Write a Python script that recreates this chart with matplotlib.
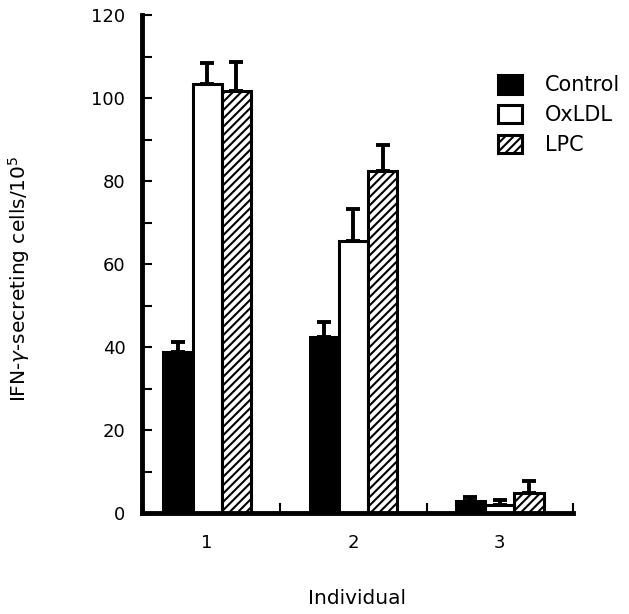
import matplotlib.pyplot as plt
import numpy as np

plt.rcParams['font.family'] = ['DejaVu Sans']
plt.rcParams['hatch.linewidth'] = 1.5

individuals = ['1', '2', '3']
groups = ['Control', 'OxLDL', 'LPC']
control = [38.8, 42.4, 2.9]
control_err = [2.4, 3.6, 1.0]
oxldl = [103.5, 65.5, 1.9]
oxldl_err = [5.0, 7.8, 1.3]
lpc = [101.7, 82.3, 4.8]
lpc_err = [7.0, 6.4, 2.9]


def main() -> None:
      fig = plt.figure(figsize=(6.29, 6.14), dpi=100)
      ax = fig.add_axes([0.2258, 0.1645, 0.685, 0.811])

      x = np.arange(1, len(individuals) + 1)
      w = 0.2
      styles = [('black', ''), ('white', ''), ('white', '////')]
      series = [(control, control_err), (oxldl, oxldl_err), (lpc, lpc_err)]
      for i, ((vals, errs), (fc, hatch), name) in enumerate(zip(series, styles, groups)):
            ax.bar(x + (i - 1) * w, vals, w, color=fc, edgecolor='black',
                   linewidth=2.2, hatch=hatch, label=name, zorder=2,
                   yerr=[np.zeros(len(errs)), errs],
                   error_kw=dict(ecolor='black', elinewidth=2.8, capsize=5, capthick=2.8))

      ax.set_xlim(0.555, 3.5)
      ax.set_ylim(0, 120)
      ax.set_xticks(x)
      ax.set_xticklabels(individuals, fontsize=13)
      ax.set_xticks([1.5, 2.5, 3.5], minor=True)
      ax.tick_params(axis='x', which='major', length=0, pad=15)
      ax.tick_params(axis='x', which='minor', direction='in', length=7, width=1.5)
      ax.set_yticks(np.arange(0, 121, 20))
      ax.set_yticks(np.arange(10, 120, 20), minor=True)
      ax.tick_params(axis='y', which='both', direction='in', length=7, width=1.5, labelsize=13, pad=12)

      for s in ['top', 'right']:
            ax.spines[s].set_visible(False)
      for s in ['left', 'bottom']:
            ax.spines[s].set_linewidth(3.5)

      ax.set_xlabel('Individual', fontsize=14.5, labelpad=27)
      ax.set_ylabel('IFN-$\\gamma$-secreting cells/10$^5$', fontsize=14.5)
      ax.yaxis.set_label_coords(-0.255, 0.47)

      fig.legend(loc='upper left', bbox_to_anchor=(0.792, 0.878), frameon=False, fontsize=15,
                 handlelength=1.15, handleheight=1.0, handletextpad=1.1, labelspacing=0.45,
                 borderpad=0, borderaxespad=0)

      plt.savefig('out.png', dpi=100)


if __name__ == "__main__":
      main()
